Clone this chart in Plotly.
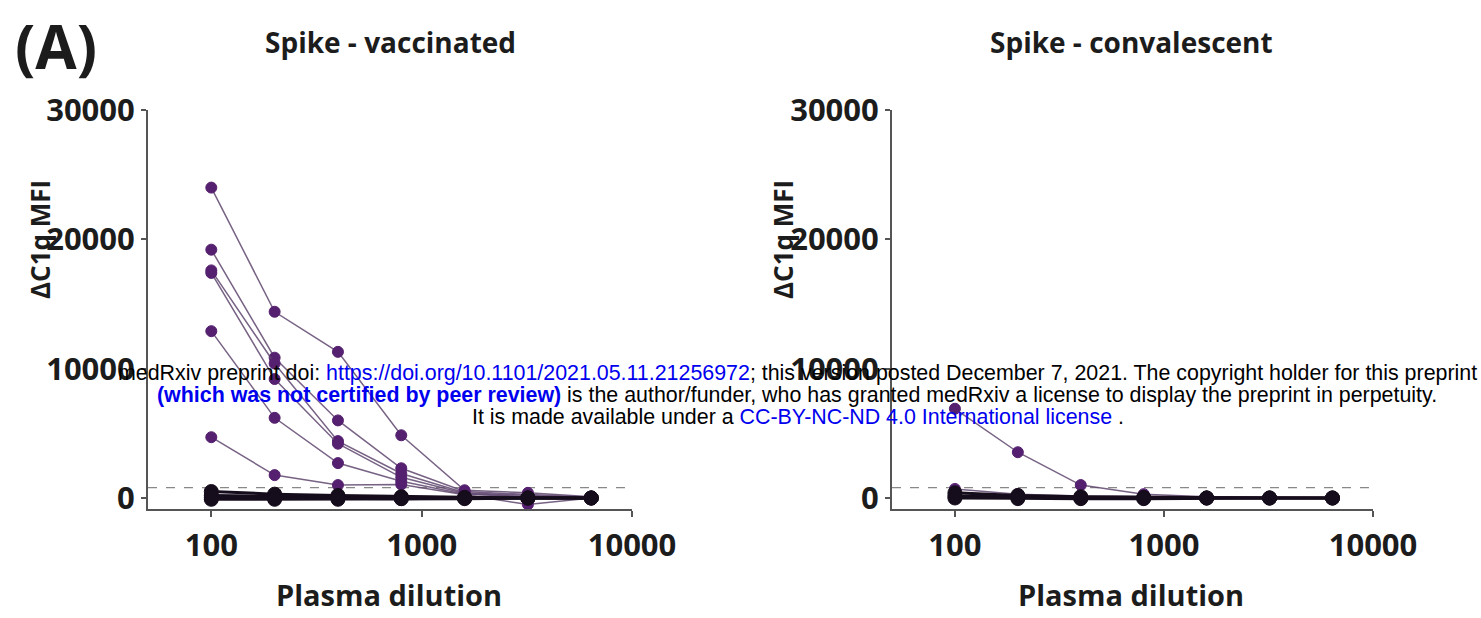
import plotly.graph_objects as go

# ---------------- data ----------------
dilutions = [100, 200, 400, 800, 1600, 3200, 6400]
x_tick_vals = [100, 1000, 10000]
x_tick_text = ["100", "1000", "10000"]
y_tick_vals = [0, 10000, 20000, 30000]
y_tick_text = ["0", "10000", "20000", "30000"]
threshold = 800

# Spike - vaccinated (purple = positive samples)
vacc_pos_a = [24000, 14400, 11300, 4850, 600, 400, 100]
vacc_pos_b = [19200, 10850, 6000, 2300, 500, 300, 50]
vacc_pos_c = [17600, 10400, 4400, 1900, 400, 200, 0]
vacc_pos_d = [17400, 9200, 4200, 1600, 350, 100, 0]
vacc_pos_e = [12900, 6200, 2700, 1300, 300, 100, 0]
vacc_pos_f = [4700, 1770, 1000, 1050, 250, -500, 0]
# Spike - vaccinated (black = negative samples)
vacc_neg_a = [500, 300, 200, 100, 50, 0, 0]
vacc_neg_b = [200, 100, 50, 50, 0, 0, 0]
vacc_neg_c = [50, 0, 0, -50, 0, 0, 0]
vacc_neg_d = [-100, -100, -100, -50, -50, 0, 0]

# Spike - convalescent
conv_pos_a = [6900, 3540, 1000, 300, 100, 50, 0]
conv_pos_b = [700, 300, 150, 100, 50, 0, 0]
conv_neg_a = [400, 200, 100, 50, 0, 0, 0]
conv_neg_b = [150, 50, 0, 0, 0, 0, 0]
conv_neg_c = [0, -50, -50, -50, 0, 0, 0]

vacc_pos = [vacc_pos_a, vacc_pos_b, vacc_pos_c, vacc_pos_d, vacc_pos_e, vacc_pos_f]
vacc_neg = [vacc_neg_a, vacc_neg_b, vacc_neg_c, vacc_neg_d]
conv_pos = [conv_pos_a, conv_pos_b]
conv_neg = [conv_neg_a, conv_neg_b, conv_neg_c]

# ---------------- styles ----------------
W, H = 1481, 618
PURPLE = "#55206f"
PURPLE_LINE = "rgba(95,70,110,0.85)"
DARK = "#160d1c"
TXT = "#1c1c1c"
FONT = "Open Sans"

def px(x):
    return x / W

def py(y):
    return 1 - y / H

fig = go.Figure()

def add_group(series, xa, ya, color, lcolor, lwidth, msize):
    for s in series:
        fig.add_trace(go.Scatter(
            x=dilutions, y=s, mode="lines+markers", xaxis=xa, yaxis=ya,
            line=dict(color=lcolor, width=lwidth),
            marker=dict(color=color, size=msize, line=dict(color=color, width=1)),
            showlegend=False, hoverinfo="x+y"))

add_group(vacc_pos, "x", "y", PURPLE, PURPLE_LINE, 1.5, 11)
add_group(vacc_neg, "x", "y", DARK, DARK, 3, 14)
add_group(conv_pos, "x2", "y2", PURPLE, PURPLE_LINE, 1.5, 11)
add_group(conv_neg, "x2", "y2", DARK, DARK, 3, 14)

axis_common = dict(
    showgrid=False, zeroline=False, showline=True, linecolor="#555555", linewidth=2,
    ticks="outside", tickcolor="#555555", tickwidth=1.5, automargin=False,
    tickfont=dict(family=FONT, size=31, color=TXT, weight="bold"),
)

y_top, y_bot = 110, 509
fig.update_layout(
    width=W, height=H, margin=dict(l=0, r=0, t=0, b=0, autoexpand=False),
    paper_bgcolor="white", plot_bgcolor="white",
    xaxis=dict(type="log", range=[1.699, 4], domain=[px(148), px(632)],
               tickvals=x_tick_vals, ticktext=x_tick_text, ticklen=6,
               ticklabelstandoff=2, anchor="y", **axis_common),
    yaxis=dict(range=[-850, 30000], domain=[py(y_bot), py(y_top)],
               tickvals=y_tick_vals, ticktext=y_tick_text, ticklen=5,
               anchor="x", **axis_common),
    xaxis2=dict(type="log", range=[1.699, 4], domain=[px(892), px(1373)],
                tickvals=x_tick_vals, ticktext=x_tick_text, ticklen=6,
                ticklabelstandoff=2, anchor="y2", **axis_common),
    yaxis2=dict(range=[-850, 30000], domain=[py(y_bot), py(y_top)],
                tickvals=y_tick_vals, ticktext=y_tick_text, ticklen=5,
                anchor="x2", **axis_common),
)

# threshold dashed lines
for xr, yr in [("x domain", "y"), ("x2 domain", "y2")]:
    fig.add_shape(type="line", xref=xr, yref=yr, x0=0, x1=1, y0=threshold, y1=threshold,
                  line=dict(color="#888888", width=1.2, dash="dash"), layer="below")

def label(text, x, y, size, angle=0, color=TXT, family=FONT, bold=True):
    fig.add_annotation(text=text, x=px(x), y=py(y), xref="paper", yref="paper",
                       showarrow=False, xanchor="center", yanchor="middle",
                       textangle=angle,
                       font=dict(family=family, size=size, color=color,
                                 weight="bold" if bold else "normal"))

label("(A)", 56, 46, 60)
label("Spike - vaccinated", 390, 42, 28)
label("Spike - convalescent", 1131, 42, 28)
label("ΔC1q MFI", 40, 240, 26, angle=-90)
label("ΔC1q MFI", 783, 240, 26, angle=-90)
label("Plasma dilution", 389, 594, 29)
label("Plasma dilution", 1131, 594, 29)

BLUE = "#0000ee"
WM = "Liberation Sans"
label("medRxiv preprint doi: <span style='color:%s'>https://doi.org/10.1101/2021.05.11.21256972</span>; "
      "this version posted December 7, 2021. The copyright holder for this preprint" % BLUE,
      798, 373, 21.4, color="black", family=WM, bold=False)
label("<b><span style='color:%s'>(which was not certified by peer review)</span></b> is the author/funder, "
      "who has granted medRxiv a license to display the preprint in perpetuity." % BLUE,
      797, 395, 21.4, color="black", family=WM, bold=False)
label("It is made available under a <span style='color:%s'>CC-BY-NC-ND 4.0 International license</span> ." % BLUE,
      798, 417, 21.4, color="black", family=WM, bold=False)

fig.write_html("out.html")
